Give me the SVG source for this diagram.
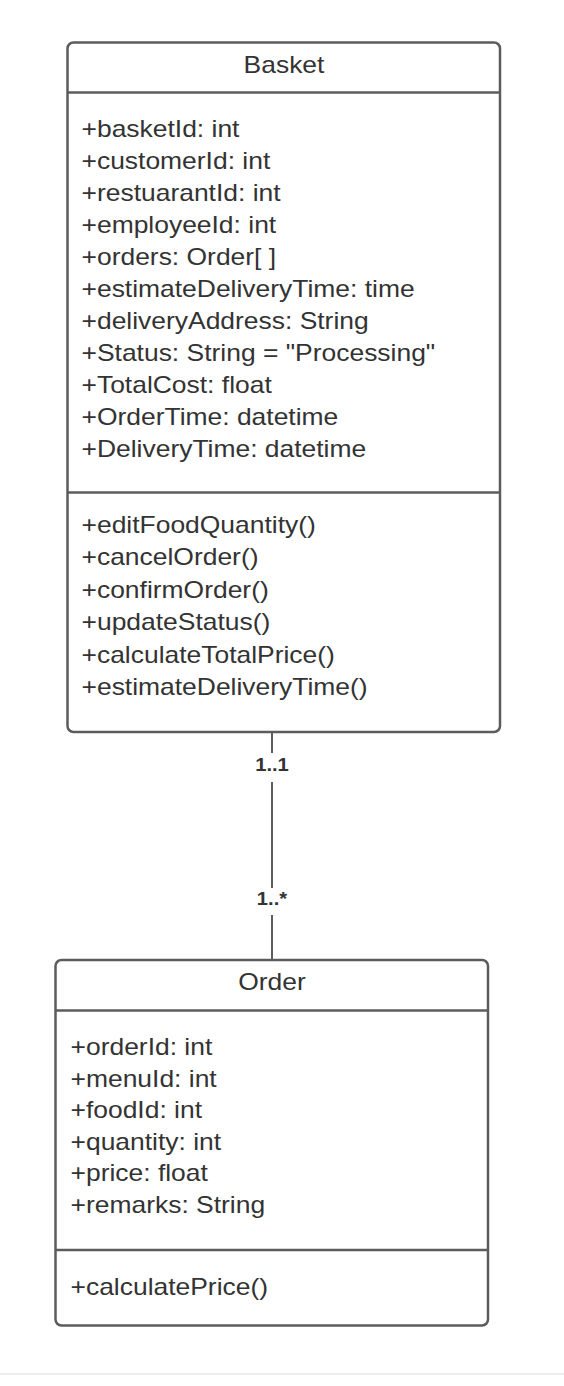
<svg xmlns="http://www.w3.org/2000/svg" width="564" height="1386" viewBox="0 0 564 1386">
<style>
.box{fill:#ffffff;stroke:#5c5c5c;stroke-width:2.5}
.div{stroke:#5c5c5c;stroke-width:2.5}
.conn{stroke:#5c5c5c;stroke-width:2;fill:none}
text{font-family:"Liberation Sans",Arial,sans-serif;fill:#333333}
.t{font-size:23px}
.m{font-size:18px;font-weight:bold;text-anchor:middle}
</style>
<rect width="564" height="1386" fill="#ffffff"/>
<line x1="0" y1="1374" x2="564" y2="1374" stroke="#ececec" stroke-width="2"/>
<g id="connectors">
<line class="conn" x1="272" y1="732" x2="272" y2="753"/>
<line class="conn" x1="272" y1="782" x2="272" y2="888"/>
<line class="conn" x1="272" y1="915" x2="272" y2="960"/>
<g transform="translate(272,0) scale(1.12,1)"><text class="m" x="0" y="771.5">1..1</text></g>
<g transform="translate(272,0) scale(1.12,1)"><text class="m" x="0" y="905">1..*</text></g>
</g>
<g id="basket">
<rect class="box" x="67.5" y="42.5" width="432.5" height="689.5" rx="6"/>
<line class="div" x1="67.5" y1="92.5" x2="500" y2="92.5"/>
<line class="div" x1="67.5" y1="492.5" x2="500" y2="492.5"/>
<g transform="translate(284,0) scale(1.15,1)"><text class="t" x="0" y="73.3" text-anchor="middle">Basket</text></g>
<g transform="translate(81.5,0) scale(1.15,1)">
<text class="t" x="0" y="136.7">+basketId: int</text>
<text class="t" x="0" y="168.7">+customerId: int</text>
<text class="t" x="0" y="200.7">+restuarantId: int</text>
<text class="t" x="0" y="232.7">+employeeId: int</text>
<text class="t" x="0" y="264.7">+orders: Order[ ]</text>
<text class="t" x="0" y="296.7">+estimateDeliveryTime: time</text>
<text class="t" x="0" y="328.7">+deliveryAddress: String</text>
<text class="t" x="0" y="360.7">+Status: String = "Processing"</text>
<text class="t" x="0" y="392.7">+TotalCost: float</text>
<text class="t" x="0" y="424.7">+OrderTime: datetime</text>
<text class="t" x="0" y="456.7">+DeliveryTime: datetime</text>
<text class="t" x="0" y="533">+editFoodQuantity()</text>
<text class="t" x="0" y="565.5">+cancelOrder()</text>
<text class="t" x="0" y="598">+confirmOrder()</text>
<text class="t" x="0" y="630.5">+updateStatus()</text>
<text class="t" x="0" y="663">+calculateTotalPrice()</text>
<text class="t" x="0" y="695.5">+estimateDeliveryTime()</text>
</g>
</g>
<g id="order">
<rect class="box" x="55.5" y="960" width="432.5" height="365.5" rx="6"/>
<line class="div" x1="55.5" y1="1010.5" x2="488" y2="1010.5"/>
<line class="div" x1="55.5" y1="1250" x2="488" y2="1250"/>
<g transform="translate(272,0) scale(1.15,1)"><text class="t" x="0" y="990" text-anchor="middle">Order</text></g>
<g transform="translate(70.5,0) scale(1.15,1)">
<text class="t" x="0" y="1055">+orderId: int</text>
<text class="t" x="0" y="1086.6">+menuId: int</text>
<text class="t" x="0" y="1118.2">+foodId: int</text>
<text class="t" x="0" y="1149.8">+quantity: int</text>
<text class="t" x="0" y="1181.4">+price: float</text>
<text class="t" x="0" y="1213">+remarks: String</text>
<text class="t" x="0" y="1295">+calculatePrice()</text>
</g>
</g>
</svg>
